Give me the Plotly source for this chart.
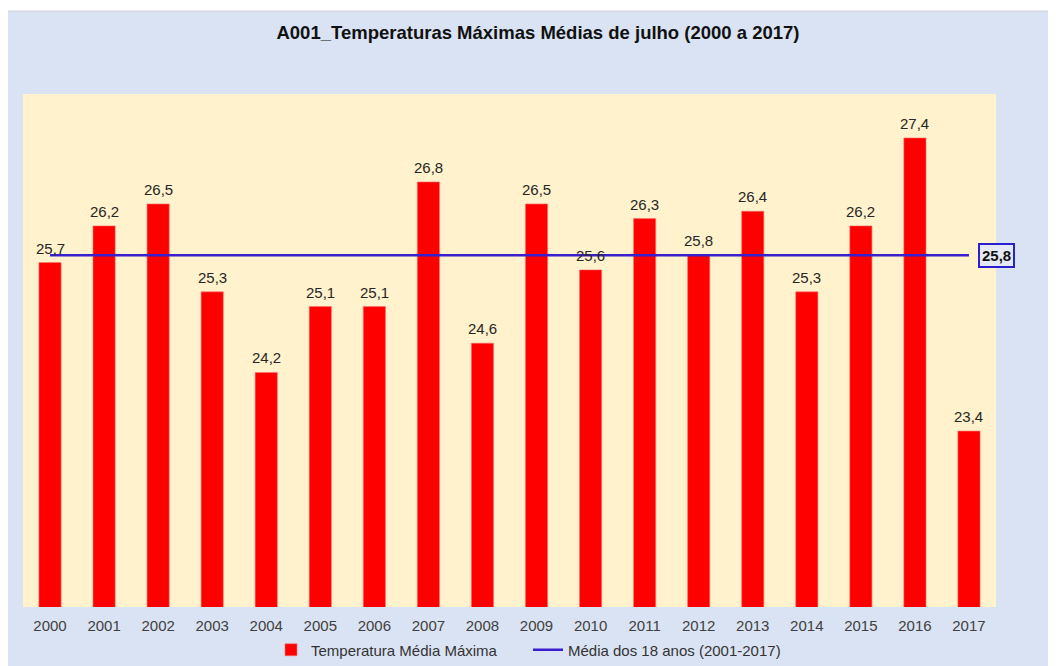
import plotly.graph_objects as go

anos = ["2000", "2001", "2002", "2003", "2004", "2005", "2006", "2007", "2008",
        "2009", "2010", "2011", "2012", "2013", "2014", "2015", "2016", "2017"]
temperaturas = [25.7, 26.2, 26.5, 25.3, 24.2, 25.1, 25.1, 26.8, 24.6,
                26.5, 25.6, 26.3, 25.8, 26.4, 25.3, 26.2, 27.4, 23.4]
media_18_anos = 25.8

titulo = "A001_Temperaturas Máximas Médias de julho (2000 a 2017)"
nome_barras = "Temperatura Média Máxima"
nome_linha = "Média dos 18 anos (2001-2017)"

OFF = 8  # page body margin
W, H = 1056 - OFF, 666 - OFF
PL, PR, PT, PB = 23, 996, 94, 607  # plot area in page pixels
L, R, T, B = PL - OFF, 1056 - PR, PT - OFF, 666 - PB

def fx(px):
    return (px - PL) / (PR - PL)

def fy(py):
    return (PB - py) / (PB - PT)

def fmt(v):
    return f"{v:.1f}".replace(".", ",")

FONT = "Liberation Sans, Arial, sans-serif"

fig = go.Figure()
fig.add_trace(go.Bar(
    x=anos, y=temperaturas, name=nome_barras,
    marker=dict(color="#FF0000", line=dict(color="#FF7070", width=0.6)),
))
fig.add_trace(go.Scatter(
    x=anos, y=[media_18_anos] * len(anos), name=nome_linha,
    mode="lines", line=dict(color="#3A1FCF", width=2.5),
))

# value labels above bars (category axis: annotation x is the category index)
for i, v in enumerate(temperaturas):
    fig.add_annotation(x=i, y=v, xref="x", yref="y", text=fmt(v), showarrow=False,
                       xanchor="center", yanchor="bottom", yshift=4,
                       font=dict(family=FONT, size=15, color="#262626"))

# outer chart frame
fig.add_shape(type="rect", xref="paper", yref="paper",
              x0=fx(7), x1=fx(1060), y0=fy(670), y1=fy(11),
              fillcolor="#DAE3F3", line=dict(color="#D0D0D0", width=1),
              layer="below")
# plot area fill
fig.add_shape(type="rect", xref="paper", yref="paper",
              x0=0, x1=1, y0=0, y1=1,
              fillcolor="#FFF2CC", line=dict(width=0),
              layer="below")

fig.add_annotation(
    xref="paper", yref="y", x=1, y=media_18_anos,
    text="<b>" + fmt(media_18_anos) + "</b>",
    showarrow=False, xanchor="center", yanchor="middle",
    font=dict(family=FONT, size=15, color="#111111"),
    bordercolor="#2A1FCF", borderwidth=2, borderpad=2,
    bgcolor="#E4E9F3",
)

fig.update_layout(
    width=W, height=H,
    margin=dict(l=L, r=R, t=T, b=B, autoexpand=False),
    paper_bgcolor="white",
    plot_bgcolor="rgba(0,0,0,0)",
    title=dict(text="<b>" + titulo + "</b>", x=(538 - OFF) / W, xanchor="center",
               y=1 - (33 - OFF) / H, yanchor="middle",
               font=dict(family=FONT, size=18.5, color="#111111")),
    bargap=0.59,
    showlegend=True,
    legend=dict(orientation="h", x=fx(271), xanchor="left", y=fy(650), yanchor="middle",
                font=dict(family=FONT, size=15, color="#333333"),
                bgcolor="rgba(0,0,0,0)", itemwidth=30, entrywidth=212),
    xaxis=dict(type="category", categoryorder="array", categoryarray=anos,
               range=[-0.5, len(anos) - 0.5],
               showgrid=False, zeroline=False, showline=False,
               tickfont=dict(family=FONT, size=15, color="#404040"), ticks="",
               ticklabelstandoff=8, automargin=False),
    yaxis=dict(range=[21, 28], showgrid=False, zeroline=False, showline=False,
               showticklabels=False, ticks="", automargin=False),
)

fig.write_html("out.html")
